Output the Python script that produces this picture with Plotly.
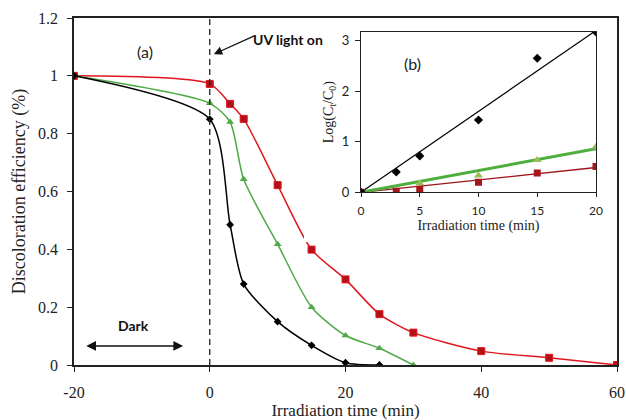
import plotly.graph_objects as go

# ---- main chart data (a) ----
t_black = [-20, 0, 3, 5, 10, 15, 20, 25]
eff_black = [1.0, 0.85, 0.485, 0.28, 0.15, 0.068, 0.008, 0.0]
t_green = [-20, 0, 3, 5, 10, 15, 20, 25, 30]
eff_green = [1.0, 0.905, 0.84, 0.642, 0.418, 0.2, 0.102, 0.058, 0.0]
t_red = [-20, 0, 3, 5, 10, 15, 20, 25, 30, 40, 50, 60]
eff_red = [1.0, 0.972, 0.903, 0.851, 0.622, 0.399, 0.296, 0.176, 0.112, 0.048, 0.025, 0.0]
x_ticks = [-20, 0, 20, 40, 60]
x_tick_labels = ["-20", "0", "20", "40", "60"]
y_ticks = [0, 0.2, 0.4, 0.6, 0.8, 1, 1.2]
y_tick_labels = ["0", "0.2", "0.4", "0.6", "0.8", "1", "1.2"]

# ---- inset data (b) ----
ti_black = [0, 3, 5, 10, 15, 20]
log_black = [0.0, 0.40, 0.72, 1.43, 2.65, 3.17]
ti_green = [0, 5, 10, 15, 20]
log_green = [0.0, 0.18, 0.33, 0.64, 0.90]
ti_red = [0, 3, 5, 10, 15, 20]
log_red = [0.0, 0.02, 0.06, 0.20, 0.38, 0.51]
fit_t = [0, 20]
fit_black = [0.0, 3.2]
fit_green = [0.0, 0.86]
fit_red = [0.0, 0.49]

W, H = 626, 420
SERIF = "Liberation Serif"
SANS = "Lato"

fig = go.Figure()

# main traces
fig.add_trace(go.Scatter(x=t_red, y=eff_red, mode="lines+markers",
                         line=dict(color="#E0161E", width=1.5, shape="spline", smoothing=0.7),
                         marker=dict(symbol="square", size=7, color="#B0121A",
                                     line=dict(color="#E0161E", width=1)),
                         xaxis="x", yaxis="y", showlegend=False))
fig.add_trace(go.Scatter(x=t_green, y=eff_green, mode="lines+markers",
                         line=dict(color="#4DAA45", width=1.5, shape="spline", smoothing=0.7),
                         marker=dict(symbol="triangle-up", size=7, color="#4DAA45"),
                         xaxis="x", yaxis="y", showlegend=False))
fig.add_trace(go.Scatter(x=t_black, y=eff_black, mode="lines+markers",
                         line=dict(color="#000000", width=1.5, shape="spline", smoothing=0.7),
                         marker=dict(symbol="diamond", size=6, color="#000000"),
                         xaxis="x", yaxis="y", showlegend=False))

# inset traces
fig.add_trace(go.Scatter(x=fit_t, y=fit_red, mode="lines",
                         line=dict(color="#9E1218", width=1.3),
                         xaxis="x2", yaxis="y2", showlegend=False))
fig.add_trace(go.Scatter(x=fit_t, y=fit_green, mode="lines",
                         line=dict(color="#4EAE3E", width=3),
                         xaxis="x2", yaxis="y2", showlegend=False))
fig.add_trace(go.Scatter(x=fit_t, y=fit_black, mode="lines",
                         line=dict(color="#000000", width=1.2),
                         xaxis="x2", yaxis="y2", showlegend=False))
fig.add_trace(go.Scatter(x=ti_red, y=log_red, mode="markers",
                         marker=dict(symbol="square", size=7, color="#A3161C"),
                         xaxis="x2", yaxis="y2", showlegend=False))
fig.add_trace(go.Scatter(x=ti_green, y=log_green, mode="markers",
                         marker=dict(symbol="triangle-up", size=8, color="#9BBB59"),
                         xaxis="x2", yaxis="y2", showlegend=False))
fig.add_trace(go.Scatter(x=ti_black, y=log_black, mode="markers",
                         marker=dict(symbol="diamond", size=7, color="#000000"),
                         xaxis="x2", yaxis="y2", showlegend=False))

def px_x(p):
    return p / W

def px_y(p):
    return 1 - p / H

fig.update_layout(
    width=W, height=H,
    margin=dict(l=0, r=0, t=0, b=0, pad=0, autoexpand=False),
    paper_bgcolor="white", plot_bgcolor="white",
    xaxis=dict(domain=[px_x(74), px_x(617)], range=[-20, 60], tickvals=x_ticks, ticktext=x_tick_labels,
               automargin=False, ticklabelstandoff=7,
               showline=True, linecolor="#222", linewidth=1.5, mirror=True,
               ticks="outside", ticklen=5, tickcolor="#222", showgrid=False, zeroline=False,
               tickfont=dict(family=SERIF, size=16, color="#222"),
               title=dict(text="Irradiation time (min)", font=dict(family=SERIF, size=17, color="#222"),
                          standoff=0)),
    yaxis=dict(domain=[px_y(365), px_y(18)], range=[0, 1.2], tickvals=y_ticks, ticktext=y_tick_labels,
               automargin=False, ticklabelstandoff=6,
               showline=True, linecolor="#222", linewidth=1.5, mirror=True,
               ticks="outside", ticklen=5, tickcolor="#222", showgrid=False, zeroline=False,
               tickfont=dict(family=SERIF, size=16, color="#222"),
               title=dict(text="Discoloration efficiency (%)", font=dict(family=SERIF, size=18, color="#222"),
                          standoff=8)),
    xaxis2=dict(domain=[px_x(361), px_x(596)], range=[0, 20], tickvals=[0, 5, 10, 15, 20],
                anchor="y2", automargin=False, ticklabelstandoff=3,
                showline=True, linecolor="#222", linewidth=1.2, mirror=True,
                ticks="outside", ticklen=4, tickcolor="#222", showgrid=False, zeroline=False,
                tickfont=dict(family=SANS, size=12, color="#222"),
                title=dict(text="Irradiation time (min)", font=dict(family=SERIF, size=14, color="#222"),
                           standoff=0)),
    yaxis2=dict(domain=[px_y(192.3), px_y(32)], range=[0, 3.17], tickvals=[0, 1, 2, 3],
                anchor="x2", automargin=False, ticklabelstandoff=3,
                showline=True, linecolor="#222", linewidth=1.2, mirror=True,
                ticks="outside", ticklen=5, tickcolor="#222", showgrid=False, zeroline=False,
                tickfont=dict(family=SANS, size=13, color="#222"),
                title=dict(text="Log(C<sub>t</sub>/C<sub>0</sub>)", font=dict(family=SERIF, size=14, color="#222"),
                           standoff=4)),
)

# white chart-area box of the inset (hides part of main curve)
fig.add_shape(type="rect", xref="paper", yref="paper",
              x0=px_x(304), x1=px_x(340), y0=px_y(242), y1=px_y(21),
              fillcolor="white", line=dict(width=0), layer="above")

# dashed "UV on" line at t = 0
fig.add_shape(type="line", xref="x", yref="y", x0=0, x1=0, y0=0, y1=1.2,
              line=dict(color="#222", width=1.3, dash="6px,4px"), layer="above")

# annotations
fig.add_annotation(x=-9.5, y=1.085, xref="x", yref="y", text="(a)", showarrow=False,
                   font=dict(family=SANS, size=16, color="#222"))
fig.add_annotation(x=px_x(423), y=px_y(52), xref="paper", yref="paper", text="(b)", showarrow=False,
                   font=dict(family=SANS, size=16, color="#222"))
fig.add_annotation(x=px_x(288), y=px_y(29), xref="paper", yref="paper", text="<b>UV light on</b>",
                   showarrow=False, font=dict(family=SANS, size=14, color="#111"))
fig.add_annotation(x=0.6, y=1.075, xref="x", yref="y", ax=42, ay=-19, text="",
                   showarrow=True, arrowhead=2, arrowsize=1.3, arrowwidth=1.3, arrowcolor="#111")
fig.add_annotation(x=-11.3, y=0.135, xref="x", yref="y", text="<b>Dark</b>",
                   showarrow=False, font=dict(family=SANS, size=14, color="#111"))
fig.add_annotation(x=-18.2, y=0.066, xref="x", yref="y", ax=-3.7, ay=0.066, axref="x", ayref="y",
                   text="", showarrow=True, arrowhead=2, arrowside="end+start",
                   arrowsize=1.3, arrowwidth=1.5, arrowcolor="#111")

fig.write_html("out.html")
